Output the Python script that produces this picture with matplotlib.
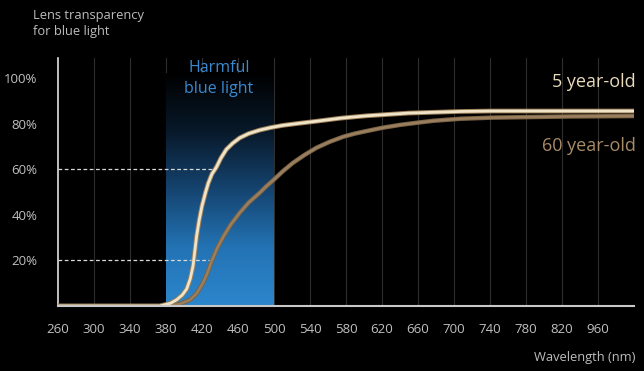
import numpy as np
import matplotlib
matplotlib.use("Agg")
import matplotlib.pyplot as plt
from matplotlib.colors import LinearSegmentedColormap

# tick labels on the wavelength axis (last step is not 40 nm)
tick_nm = [260, 300, 340, 380, 420, 460, 500, 540, 580, 620, 660, 700, 740, 780, 820, 960]
axis_end_nm = 1100
y_ticks = [20, 40, 60, 80, 100]

# transparency curves (wavelength nm, %)
young_nm = [260, 373, 385, 392, 398, 403, 407, 410, 412, 414, 417, 420, 424, 427, 431, 436, 441,
            447, 454, 462, 472, 484, 496, 510, 528, 547, 575, 603, 650, 707, 743, 850, 1100]
young_pct = [0, 0, 1.2, 2.8, 4.8, 7.5, 12, 17.5, 24, 30.7, 38, 44, 50, 54, 58, 61, 65,
             68.8, 71.5, 73.9, 75.8, 77.3, 78.4, 79.4, 80.3, 81.2, 82.6, 83.6, 84.8, 85.5, 85.7, 85.7, 85.7]
old_nm = [260, 381, 395, 407, 414, 421, 426, 431, 437, 444, 452, 462, 472, 484, 492, 500, 510,
          521, 534, 547, 562, 577, 590, 603, 620, 640, 660, 677, 707, 743, 850, 1100]
old_pct = [0, 0, 0.8, 2.8, 5.5, 10, 14.5, 20, 25.5, 30.7, 35.8, 41, 45.5, 49.7, 52.8, 55.6, 59.3,
           62.9, 66.4, 69.5, 72.2, 74.4, 75.8, 76.9, 78.3, 79.6, 80.6, 81.4, 82.3, 82.8, 83.3, 83.5]

# dashed reference levels and where they stop
ref_pct = [60, 20]
ref_end_nm = [435, 431]

harmful_nm = [380, 500]

tick_pos = list(range(len(tick_nm))) + [len(tick_nm)]
tick_ref = tick_nm + [axis_end_nm]


def pos(nm):
    return np.interp(nm, tick_ref, tick_pos)


plt.rcParams['font.family'] = ['Open Sans', 'DejaVu Sans']

fig = plt.figure(figsize=(6.44, 3.71), dpi=100, facecolor='black')
ax = fig.add_axes([58 / 644, 65 / 371, 576 / 644, 248 / 371])
ax.set_facecolor('black')
ax.set_xlim(0, len(tick_nm))
ax.set_ylim(0, 109)

# vertical grid
for p in tick_pos[1:-1]:
    ax.axvline(p, color='#2e2e2e', lw=0.8, zorder=1)

# harmful blue light band, bright at the bottom fading to black at the top
cmap = LinearSegmentedColormap.from_list('blue', ['#000000', '#08192a', '#154470', '#2373b4', '#2c86cc'])
grad = np.linspace(1, 0, 256).reshape(-1, 1)
ax.imshow(grad, extent=[pos(harmful_nm[0]), pos(harmful_nm[1]), 0, 102], aspect='auto',
          cmap=cmap, origin='lower', zorder=2, interpolation='bicubic')

for lvl, end in zip(ref_pct, ref_end_nm):
    ax.plot([0, pos(end)], [lvl, lvl], color='#d8d8d8', lw=0.9, ls=(0, (3, 2)), zorder=3)

# curves
ax.plot(pos(old_nm), old_pct, color='#7a6246', lw=3.2, zorder=4, solid_capstyle='butt')
ax.plot(pos(old_nm), old_pct, color='#9a7f5e', lw=1.8, zorder=4, solid_capstyle='butt')
ax.plot(pos(young_nm), young_pct, color='#9c7f58', lw=3.4, zorder=5, solid_capstyle='butt')
ax.plot(pos(young_nm), young_pct, color='#f0e4c8', lw=2.0, zorder=5, solid_capstyle='butt')

for s in ['top', 'right']:
    ax.spines[s].set_visible(False)
ax.spines['left'].set_color('#e0e0e0')
ax.spines['bottom'].set_color('#c8c8c8')
ax.spines['left'].set_linewidth(1.2)
ax.spines['bottom'].set_linewidth(1.5)
ax.spines['bottom'].set_zorder(6)

ax.set_xticks(tick_pos[:-1])
ax.set_xticklabels([str(t) for t in tick_nm])
ax.set_yticks(y_ticks)
ax.set_yticklabels([f'{v}%' for v in y_ticks])
ax.tick_params(colors='#c0c0c0', length=0, labelsize=9.5)
ax.tick_params(axis='x', pad=12)
ax.tick_params(axis='y', pad=15)

fig.text(33 / 644, 1 - 16 / 371, 'Lens transparency', color='#bdbdbd', fontsize=9.3, va='center')
fig.text(33 / 644, 1 - 32 / 371, 'for blue light', color='#bdbdbd', fontsize=9.3, va='center')
fig.text(219 / 644, 1 - 68 / 371, 'Harmful', color='#3a8ad2', fontsize=11.5, ha='center', va='center')
fig.text(219 / 644, 1 - 89 / 371, 'blue light', color='#3a8ad2', fontsize=11.5, ha='center', va='center')
fig.text(636 / 644, 1 - 82 / 371, '5 year-old', color='#e8dabb', fontsize=13, ha='right', va='center')
fig.text(636 / 644, 1 - 146 / 371, '60 year-old', color='#a88b68', fontsize=13, ha='right', va='center')
fig.text(636 / 644, 1 - 357 / 371, 'Wavelength (nm)', color='#bdbdbd', fontsize=9.3, ha='right', va='center')

fig.savefig('out.png', dpi=100, facecolor='black')
